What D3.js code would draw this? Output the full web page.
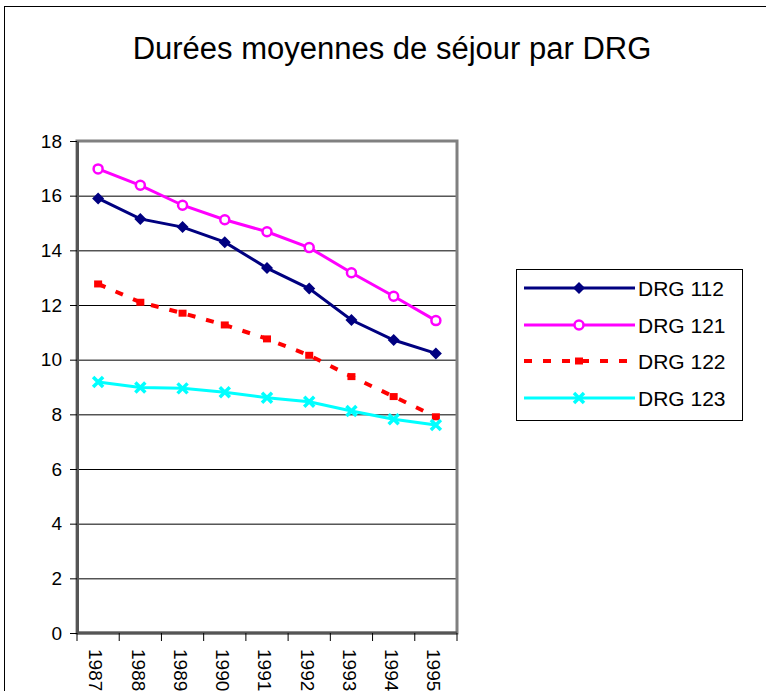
<!DOCTYPE html>
<html>
<head>
<meta charset="utf-8">
<script src="https://cdn.jsdelivr.net/npm/d3@7/dist/d3.min.js"></script>
<style>
  body { margin: 0; background: #fff; }
  svg { display: block; font-family: "Liberation Sans", Arial, sans-serif; }
</style>
</head>
<body>
<svg id="chart"></svg>
<script>
const years = ["1987", "1988", "1989", "1990", "1991", "1992", "1993", "1994", "1995"];
const drg112 = [15.9, 15.15, 14.85, 14.3, 13.35, 12.6, 11.45, 10.72, 10.23];
const drg121 = [16.98, 16.38, 15.65, 15.12, 14.68, 14.1, 13.18, 12.32, 11.43];
const drg122 = [12.77, 12.1, 11.7, 11.27, 10.76, 10.16, 9.38, 8.65, 7.91];
const drg123 = [9.18, 8.98, 8.95, 8.81, 8.61, 8.46, 8.12, 7.82, 7.61];
const yTicks = [0, 2, 4, 6, 8, 10, 12, 14, 16, 18];

const series = [
  { name: "DRG 112", values: drg112, color: "#000080", marker: "diamond" },
  { name: "DRG 121", values: drg121, color: "#ff00ff", marker: "circle" },
  { name: "DRG 122", values: drg122, color: "#ff0000", marker: "square", dash: "8,11" },
  { name: "DRG 123", values: drg123, color: "#00ffff", marker: "cross" }
];

const W = 766, H = 691;
const plot = { left: 77, top: 141, right: 457, bottom: 633 };

const svg = d3.select("#chart").attr("width", W).attr("height", H);

// outer chart border
svg.append("rect")
  .attr("x", 4.5).attr("y", 6.5)
  .attr("width", W + 10).attr("height", H + 10)
  .attr("fill", "#fff").attr("stroke", "#000").attr("stroke-width", 1);

svg.append("text")
  .attr("x", 392).attr("y", 59)
  .attr("text-anchor", "middle")
  .attr("font-size", 31)
  .text("Durées moyennes de séjour par DRG");

const x = d3.scaleBand().domain(years).range([plot.left, plot.right]).padding(0);
const y = d3.scaleLinear().domain([0, 18]).range([plot.bottom, plot.top]);
const cx = d => x(d) + x.bandwidth() / 2;

// gridlines
svg.append("g")
  .attr("transform", `translate(${plot.left},0)`)
  .call(d3.axisLeft(y).tickValues(yTicks).tickSize(-(plot.right - plot.left)).tickFormat(""))
  .call(g => g.select(".domain").remove())
  .call(g => g.selectAll("line").attr("stroke", "#000").attr("stroke-width", 1));

// plot frame
svg.append("rect")
  .attr("x", plot.left).attr("y", plot.top)
  .attr("width", plot.right - plot.left).attr("height", plot.bottom - plot.top)
  .attr("fill", "none").attr("stroke", "#808080").attr("stroke-width", 3);

// y axis
const yAxis = svg.append("g")
  .attr("transform", `translate(${plot.left},0)`)
  .call(d3.axisLeft(y).tickValues(yTicks).tickSize(7).tickPadding(8).tickSizeOuter(0));
yAxis.select(".domain").attr("stroke", "#555").attr("stroke-width", 3);
yAxis.selectAll("line").attr("stroke", "#000");
yAxis.selectAll("text").attr("font-size", 19).attr("fill", "#000")
  .attr("font-family", "Liberation Sans, Arial, sans-serif");

// x axis
const xAxis = svg.append("g");
xAxis.append("line")
  .attr("x1", plot.left).attr("x2", plot.right)
  .attr("y1", plot.bottom).attr("y2", plot.bottom)
  .attr("stroke", "#555").attr("stroke-width", 3);
xAxis.selectAll(".tk")
  .data(years.concat(["end"]))
  .enter().append("line")
  .attr("x1", d => d === "end" ? plot.right : x(d))
  .attr("x2", d => d === "end" ? plot.right : x(d))
  .attr("y1", plot.bottom).attr("y2", plot.bottom + 8)
  .attr("stroke", "#000");
xAxis.selectAll(".lbl")
  .data(years)
  .enter().append("text")
  .attr("transform", d => `translate(${cx(d) - 2},${plot.bottom + 16}) rotate(90)`)
  .attr("dy", "0.35em")
  .attr("font-size", 19)
  .text(d => d);

// lines
const line = d3.line().x((d, i) => cx(years[i])).y(d => y(d));

function drawMarker(g, type, color) {
  if (type === "diamond") {
    g.append("path").attr("d", "M0,-6L6,0L0,6L-6,0Z").attr("fill", color);
  } else if (type === "circle") {
    g.append("circle").attr("r", 4.5).attr("fill", "#fff").attr("stroke", color).attr("stroke-width", 2.5);
  } else if (type === "square") {
    g.append("rect").attr("x", -4).attr("y", -3.5).attr("width", 8).attr("height", 7).attr("fill", color);
  } else if (type === "cross") {
    g.append("path").attr("d", "M-5,-5L5,5M-5,5L5,-5").attr("stroke", color).attr("stroke-width", 3.5);
  }
}

series.forEach(s => {
  svg.append("path")
    .datum(s.values)
    .attr("d", line)
    .attr("fill", "none")
    .attr("stroke", s.color)
    .attr("stroke-width", s.dash ? 4 : 3)
    .attr("stroke-dasharray", s.dash || null);
  s.values.forEach((v, i) => {
    const g = svg.append("g").attr("transform", `translate(${cx(years[i])},${y(v)})`);
    drawMarker(g, s.marker, s.color);
  });
});

// legend
const legend = svg.append("g");
legend.append("rect")
  .attr("x", 516.5).attr("y", 269.5).attr("width", 226).attr("height", 151)
  .attr("fill", "#fff").attr("stroke", "#000").attr("stroke-width", 1);
const legendY = [288, 325, 361, 398];
series.forEach((s, i) => {
  const ly = legendY[i];
  legend.append("line")
    .attr("x1", 524).attr("x2", 635).attr("y1", ly).attr("y2", ly)
    .attr("stroke", s.color).attr("stroke-width", s.dash ? 4 : 3)
    .attr("stroke-dasharray", s.dash || null);
  const g = legend.append("g").attr("transform", `translate(579,${ly})`);
  drawMarker(g, s.marker, s.color);
  legend.append("text")
    .attr("x", 638).attr("y", ly).attr("dy", "0.36em")
    .attr("font-size", 21)
    .text(s.name);
});
</script>
</body>
</html>
